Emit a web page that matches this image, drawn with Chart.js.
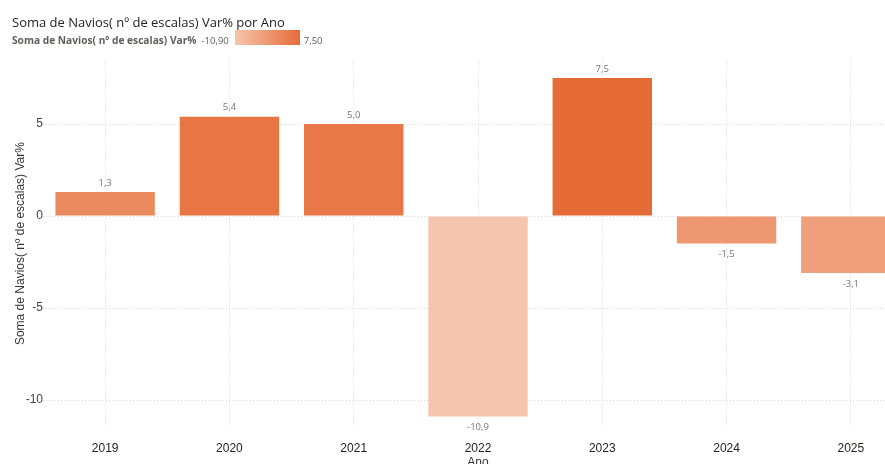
<!DOCTYPE html>
<html>
<head>
<meta charset="utf-8">
<script src="https://cdn.jsdelivr.net/npm/chart.js@4/dist/chart.umd.min.js"></script>
<style>
  html, body { margin: 0; padding: 0; background: #fff; overflow: hidden; width: 885px; height: 464px; }
  #wrap { position: relative; width: 885px; height: 464px; overflow: hidden; }
  #grafico { position: absolute; left: 0; top: 0; }
  #titulo {
    position: absolute; left: 12px; top: 13px; line-height: 16px;
    font: 13px 'Segoe UI', 'Open Sans', sans-serif; color: #252423; white-space: nowrap;
  }
  #legenda {
    position: absolute; left: 12px; top: 32px; height: 16px;
    display: flex; align-items: center; white-space: nowrap;
    font: 9.5px 'Segoe UI', 'Open Sans', sans-serif; color: #605e5c;
  }
  #legenda .nome { font-weight: 700; font-size: 10.2px; color: #605e5c; margin-right: 5px; }
  #legenda .barra { width: 65px; height: 15px; margin: 0 4px 0 6px; position: relative; top: -3px; }
</style>
</head>
<body>
<div id="wrap">
  <canvas id="grafico" width="913" height="475"></canvas>
  <div id="titulo">Soma de Navios( nº de escalas) Var% por Ano</div>
  <div id="legenda">
    <span class="nome">Soma de Navios( nº de escalas) Var%</span>
    <span id="legMin"></span>
    <span class="barra" id="legBarra"></span>
    <span id="legMax"></span>
  </div>
</div>
<script>
// Variação % das escalas de navios por ano
const anos = ['2019', '2020', '2021', '2022', '2023', '2024', '2025'];
const variacao = [1.3, 5.4, 5.0, -10.9, 7.5, -1.5, -3.1];
const ticksY = [-10, -5, 0, 5];

// Cores do gradiente (mínimo -> máximo)
const corMin = [245, 197, 173];
const corMax = [230, 108, 55];

const vMin = Math.min(...variacao);
const vMax = Math.max(...variacao);

function corDoValor(v) {
  const t = (v - vMin) / (vMax - vMin);
  const c = corMin.map((m, i) => Math.round(m + (corMax[i] - m) * t));
  return `rgb(${c[0]}, ${c[1]}, ${c[2]})`;
}

function formatar(v, casas) {
  return v.toFixed(casas).replace('.', ',');
}

// Legenda com escala de cor
document.getElementById('legMin').textContent = formatar(vMin, 2);
document.getElementById('legMax').textContent = formatar(vMax, 2);
document.getElementById('legBarra').style.background =
  `linear-gradient(to right, ${corDoValor(vMin)}, ${corDoValor(vMax)})`;

// Rótulos de dados acima/abaixo das barras
const rotulos = {
  id: 'rotulos',
  afterDatasetsDraw(chart) {
    const ctx = chart.ctx;
    const meta = chart.getDatasetMeta(0);
    ctx.save();
    ctx.font = "9.5px 'Segoe UI', 'Open Sans', sans-serif";
    ctx.fillStyle = '#777';
    ctx.textAlign = 'center';
    ctx.textBaseline = 'middle';
    meta.data.forEach((bar, i) => {
      const v = variacao[i];
      const y = v >= 0 ? bar.y - 9 : bar.y + 11;
      ctx.fillText(formatar(v, 1), bar.x, y);
    });
    ctx.restore();
  }
};

const grade = '#d9d9d9';

new Chart(document.getElementById('grafico').getContext('2d'), {
  type: 'bar',
  data: {
    labels: anos,
    datasets: [{
      label: 'Soma de Navios( nº de escalas) Var%',
      data: variacao,
      backgroundColor: variacao.map(corDoValor),
      borderWidth: 0,
      categoryPercentage: 1,
      barPercentage: 0.8
    }]
  },
  options: {
    responsive: false,
    animation: false,
    layout: { padding: { top: 59.6, left: 0, right: 0, bottom: 0 } },
    plugins: {
      legend: { display: false },
      tooltip: { enabled: false }
    },
    scales: {
      x: {
        grid: { color: grade, offset: false, drawTicks: false },
        border: { display: false, dash: [1, 2] },
        ticks: {
          padding: 13.4,
          color: '#252423',
          font: { family: "Arial, 'Liberation Sans', sans-serif", size: 12 }
        },
        title: {
          display: true,
          text: 'Ano',
          color: '#333',
          font: { family: "Arial, 'Liberation Sans', sans-serif", size: 12 },
          padding: { top: 0, bottom: 4.8 }
        },
        afterFit(s) { s.height = 475 - 427.6; }
      },
      y: {
        min: -11.5,
        max: 8.5,
        grid: { color: grade, drawTicks: false },
        border: { display: false, dash: [1, 2] },
        afterBuildTicks(s) { s.ticks = ticksY.map(v => ({ value: v })); },
        ticks: {
          padding: 0,
          color: '#444',
          font: { family: "Arial, 'Liberation Sans', sans-serif", size: 12 },
          callback: v => String(v)
        },
        title: {
          display: true,
          text: 'Soma de Navios( nº de escalas) Var%',
          color: '#333',
          font: { family: "Arial, 'Liberation Sans', sans-serif", size: 12 },
          padding: { top: 13, bottom: 0 }
        },
        afterFit(s) { s.width = 43; }
      }
    }
  },
  plugins: [rotulos]
});
</script>
</body>
</html>
